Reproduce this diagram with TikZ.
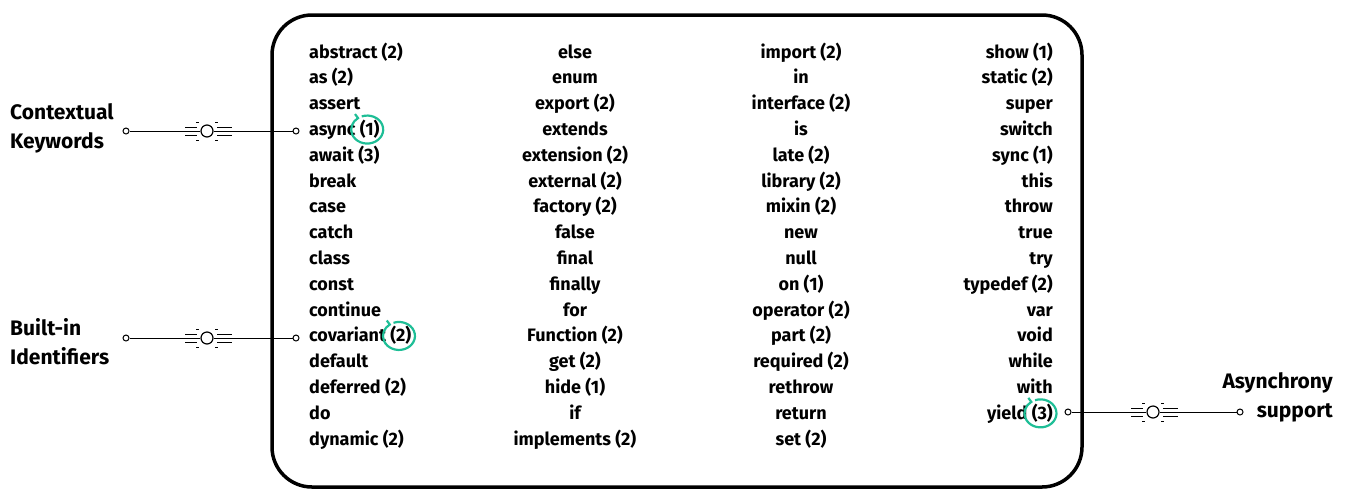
\documentclass[tikz,border=0pt]{standalone}
\usepackage{fontspec}
\setmainfont{Fira Sans}
\usetikzlibrary{positioning,calc}
\definecolor{mint}{RGB}{30,190,150}

\tikzset{
  kw/.style={font=\bfseries\fontsize{18}{18}\selectfont, inner sep=0pt},
  tag/.style={font=\bfseries\fontsize{21}{29}\selectfont, inner sep=0pt},
  dot/.style={circle, draw, line width=1pt, minimum size=6pt, inner sep=0pt},
  hub/.style={circle, draw, line width=1.2pt, minimum size=12pt, inner sep=0pt},
  ring/.style={mint, line width=2.2pt},
  link/.style={line width=1pt}
}

% circle with speed lines on both sides
\newcommand{\hubmark}[2]{%
  \node[hub] (#1) at (#2) {};
  \draw[link] ($(#1)+(-22,-4)$) -- ++(12,0) ($(#1)+(-22,4)$) -- ++(12,0)
    ($(#1)+(10,-4)$) -- ++(15,0) ($(#1)+(10,4)$) -- ++(15,0);
  \draw[link] ($(#1)+(-11,-9)$) -- ++(3,0) ($(#1)+(-11,9)$) -- ++(3,0)
    ($(#1)+(8,-9)$) -- ++(3,0) ($(#1)+(8,9)$) -- ++(3,0);
}

% hand drawn ring round the tail of a keyword
\newcommand{\handring}[1]{%
  \draw[ring] ($(#1.base east)+(-12,-6)$) ++(-6,-13)
    arc[start angle=-110, end angle=235, x radius=16, y radius=14] -- ++(-3,-4);
}

\begin{document}
\begin{tikzpicture}[x=1pt,y=-1pt]
  \useasboundingbox (0,0) rectangle (1351,491);
  \draw[line width=3.5pt, rounded corners=40pt] (272,15) rectangle (1082,487);

  % keyword columns
  \foreach \w [count=\i] in {abstract (2), as (2), assert, async (1), await (3), break, case, catch, class, const, continue, covariant (2), default, deferred (2), do, dynamic (2)}
    \node[kw, anchor=base west] (a\i) at (309, {58+25.8*(\i-1)}) {\w};
  \foreach \w [count=\i] in {else, enum, export (2), extends, extension (2), external (2), factory (2), false, final, finally, for, Function (2), get (2), hide (1), if, implements (2)}
    \node[kw, anchor=base] (b\i) at (575, {58+25.8*(\i-1)}) {\w};
  \foreach \w [count=\i] in {import (2), in, interface (2), is, late (2), library (2), mixin (2), new, null, on (1), operator (2), part (2), required (2), rethrow, return, set (2)}
    \node[kw, anchor=base] (c\i) at (801, {58+25.8*(\i-1)}) {\w};
  \foreach \w [count=\i] in {show (1), static (2), super, switch, sync (1), this, throw, true, try, typedef (2), var, void, while, with, yield (3)}
    \node[kw, anchor=base east] (d\i) at (1053, {58+25.8*(\i-1)}) {\w};

  % side labels
  \node[tag, anchor=west, align=left] (ctx) at (10,128) {Contextual\\Keywords};
  \node[tag, anchor=west, align=left] (bin) at (10,342) {Built-in\\Identifiers};
  \node[tag, anchor=east, align=right] (asy) at (1333,397) {Asynchrony\\support};

  % connectors
  \node[dot] (p1) at (126,131) {};
  \node[dot] (q1) at (296,131) {};
  \hubmark{h1}{207,131}
  \draw[link] (p1) -- (h1) -- (q1);

  \node[dot] (p2) at (126,338) {};
  \node[dot] (q2) at (296,338) {};
  \hubmark{h2}{207,338}
  \draw[link] (p2) -- (h2) -- (q2);

  \node[dot] (p3) at (1068,412) {};
  \node[dot] (q3) at (1240,412) {};
  \hubmark{h3}{1153,412}
  \draw[link] (p3) -- (h3) -- (q3);

  % rings
  \handring{a4}
  \handring{a12}
  \handring{d15}
\end{tikzpicture}
\end{document}
